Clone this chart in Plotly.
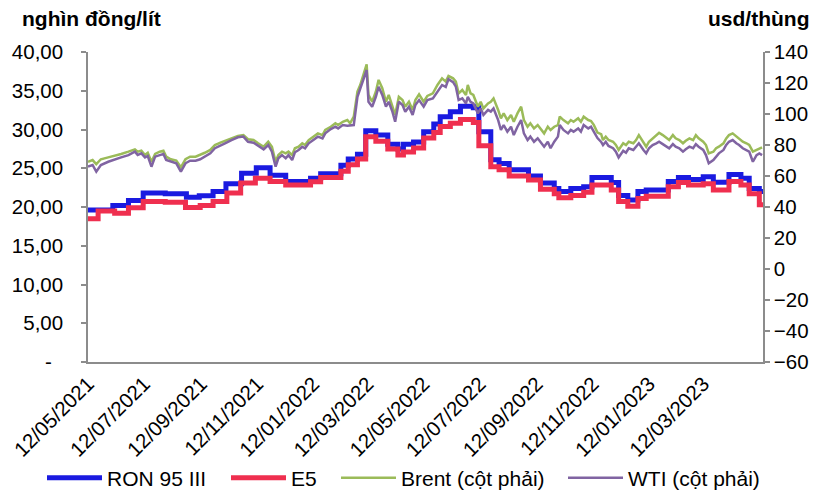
import plotly.graph_objects as go

# ---- Retail petrol prices (thousand VND / litre), step series: change dates and new levels
ron95_dates = [
    "2021-05-12", "2021-06-08", "2021-06-25", "2021-07-11", "2021-08-04", "2021-08-27",
    "2021-09-10", "2021-09-25", "2021-10-09", "2021-10-26", "2021-11-11", "2021-11-26",
    "2021-12-13", "2022-01-09", "2022-01-20", "2022-02-11", "2022-02-19", "2022-03-01",
    "2022-03-10", "2022-03-21", "2022-04-03", "2022-04-14", "2022-04-20", "2022-05-01",
    "2022-05-12", "2022-05-23", "2022-05-30", "2022-06-10", "2022-06-21", "2022-07-05",
    "2022-07-11", "2022-07-24", "2022-08-02", "2022-08-13", "2022-09-03", "2022-09-16",
    "2022-10-01", "2022-10-06", "2022-10-19", "2022-11-02", "2022-11-11", "2022-12-02",
    "2022-12-10", "2022-12-20", "2022-12-31", "2023-01-09", "2023-02-02", "2023-02-13",
    "2023-02-24", "2023-03-12", "2023-03-23", "2023-04-09", "2023-04-22", "2023-05-01",
    "2023-05-12", "2023-05-16",
]
ron95_values = [
    19.6, 20.2, 20.85, 21.8, 21.7, 21.25,
    21.45, 22.0, 23.0, 24.35, 25.05, 24.1,
    23.3, 23.7, 24.3, 25.4, 26.2, 26.8,
    29.85, 29.3, 28.1, 27.5, 28.1, 28.4,
    29.7, 30.7, 31.65, 32.3, 33.0, 32.8,
    29.7, 26.1, 25.6, 24.8, 24.0, 23.1,
    22.4, 22.0, 22.4, 22.6, 23.8, 23.15,
    21.5, 20.9, 22.0, 22.2, 23.3, 23.8,
    23.55, 23.9, 23.2, 24.2, 23.7, 22.4,
    22.0, 22.0,
]

e5_dates = [
    "2021-05-12", "2021-05-23", "2021-06-10", "2021-06-25", "2021-07-11", "2021-08-04",
    "2021-08-26", "2021-09-11", "2021-09-25", "2021-10-10", "2021-10-25", "2021-11-10",
    "2021-11-26", "2021-12-13", "2022-01-09", "2022-01-20", "2022-02-11", "2022-02-19",
    "2022-03-01", "2022-03-10", "2022-03-21", "2022-04-03", "2022-04-14", "2022-04-20",
    "2022-05-01", "2022-05-12", "2022-05-23", "2022-05-30", "2022-06-10", "2022-06-21",
    "2022-07-05", "2022-07-11", "2022-07-24", "2022-08-02", "2022-08-13", "2022-09-03",
    "2022-09-16", "2022-10-01", "2022-10-06", "2022-10-19", "2022-11-02", "2022-11-11",
    "2022-12-02", "2022-12-10", "2022-12-20", "2022-12-31", "2023-01-09", "2023-02-02",
    "2023-02-13", "2023-02-24", "2023-03-12", "2023-03-23", "2023-04-09", "2023-04-22",
    "2023-05-01", "2023-05-12", "2023-05-16",
]
e5_values = [
    18.5, 19.5, 19.2, 19.9, 20.7, 20.6,
    19.95, 20.2, 20.7, 21.8, 23.1, 23.7,
    23.3, 22.85, 23.25, 23.8, 24.6, 25.45,
    26.2, 29.05, 28.5, 27.5, 26.7, 27.1,
    27.6, 28.9, 29.6, 30.4, 30.8, 31.3,
    30.9, 27.9, 25.2, 24.8, 24.0, 23.5,
    22.3, 21.7, 21.2, 21.5, 21.9, 22.85,
    22.2, 20.7, 20.1, 21.1, 21.4, 22.6,
    23.15, 22.85, 23.0, 22.2, 23.3, 22.85,
    21.7, 20.3, 20.3,
]

# ---- Crude oil prices (USD / barrel), right axis
oil_dates = [
    "2021-05-12", "2021-05-17", "2021-05-21", "2021-05-26", "2021-06-03", "2021-06-10",
    "2021-06-17", "2021-06-25", "2021-07-02", "2021-07-05", "2021-07-09", "2021-07-13",
    "2021-07-16", "2021-07-20", "2021-07-24", "2021-07-29", "2021-08-02", "2021-08-05",
    "2021-08-10", "2021-08-16", "2021-08-21", "2021-08-26", "2021-08-31", "2021-09-06",
    "2021-09-11", "2021-09-16", "2021-09-22", "2021-09-27", "2021-10-03", "2021-10-08",
    "2021-10-15", "2021-10-22", "2021-10-28", "2021-11-02", "2021-11-08", "2021-11-13",
    "2021-11-19", "2021-11-24", "2021-11-28", "2021-12-02", "2021-12-05", "2021-12-09",
    "2021-12-13", "2021-12-16", "2021-12-20", "2021-12-23", "2021-12-27", "2021-12-31",
    "2022-01-03", "2022-01-07", "2022-01-12", "2022-01-17", "2022-01-22", "2022-01-25",
    "2022-01-31", "2022-02-05", "2022-02-08", "2022-02-13", "2022-02-18", "2022-02-21",
    "2022-02-25", "2022-03-01", "2022-03-04", "2022-03-08", "2022-03-11", "2022-03-13",
    "2022-03-17", "2022-03-21", "2022-03-24", "2022-03-28", "2022-04-01", "2022-04-04",
    "2022-04-08", "2022-04-11", "2022-04-15", "2022-04-19", "2022-04-22", "2022-04-26",
    "2022-04-30", "2022-05-03", "2022-05-07", "2022-05-12", "2022-05-16", "2022-05-22",
    "2022-05-27", "2022-06-01", "2022-06-05", "2022-06-08", "2022-06-13", "2022-06-16",
    "2022-06-19", "2022-06-23", "2022-06-27", "2022-06-29", "2022-07-02", "2022-07-05",
    "2022-07-10", "2022-07-13", "2022-07-16", "2022-07-21", "2022-07-24", "2022-07-27",
    "2022-08-01", "2022-08-04", "2022-08-07", "2022-08-11", "2022-08-15", "2022-08-18",
    "2022-08-22", "2022-08-26", "2022-08-29", "2022-09-02", "2022-09-05", "2022-09-09",
    "2022-09-13", "2022-09-16", "2022-09-20", "2022-09-24", "2022-09-27", "2022-10-01",
    "2022-10-05", "2022-10-07", "2022-10-11", "2022-10-16", "2022-10-19", "2022-10-22",
    "2022-10-27", "2022-10-30", "2022-11-02", "2022-11-07", "2022-11-10", "2022-11-13",
    "2022-11-17", "2022-11-21", "2022-11-23", "2022-11-26", "2022-11-29", "2022-12-04",
    "2022-12-07", "2022-12-10", "2022-12-15", "2022-12-18", "2022-12-21", "2022-12-26",
    "2022-12-29", "2023-01-01", "2023-01-06", "2023-01-09", "2023-01-12", "2023-01-16",
    "2023-01-20", "2023-01-23", "2023-01-27", "2023-01-31", "2023-02-03", "2023-02-07",
    "2023-02-10", "2023-02-14", "2023-02-18", "2023-02-21", "2023-02-25", "2023-03-01",
    "2023-03-04", "2023-03-07", "2023-03-12", "2023-03-15", "2023-03-18", "2023-03-23",
    "2023-03-26", "2023-03-29", "2023-04-03", "2023-04-06", "2023-04-09", "2023-04-13",
    "2023-04-17", "2023-04-20", "2023-04-24", "2023-04-28", "2023-05-01", "2023-05-05",
    "2023-05-09", "2023-05-12", "2023-05-15",
]
brent_values = [
    69.2, 70.3, 67.7, 70.8, 72.0, 72.9,
    74.2, 75.7, 77.2, 75.7, 76.3, 73.5,
    75.0, 69.2, 74.2, 75.7, 76.3, 72.5,
    70.8, 69.9, 65.6, 70.8, 72.5, 72.5,
    73.5, 75.0, 76.8, 80.0, 81.5, 82.8,
    84.3, 85.8, 86.4, 83.7, 83.2, 81.1,
    78.9, 82.1, 78.9, 69.2, 73.5, 75.7,
    74.6, 75.7, 73.5, 77.9, 78.9, 81.1,
    80.0, 83.2, 85.4, 87.5, 86.4, 89.7,
    91.8, 94.0, 92.9, 95.0, 96.1, 94.0,
    98.3, 114.4, 118.7, 126.3, 132.1, 112.3,
    107.9, 114.4, 122.0, 116.6, 107.9, 112.3,
    104.7, 99.4, 111.1, 109.0, 104.7, 107.9,
    102.6, 109.0, 112.7, 107.9, 111.7, 113.3,
    118.7, 123.0, 120.9, 124.5, 123.0, 120.9,
    113.3, 115.5, 112.3, 118.7, 113.3, 112.3,
    104.7, 107.9, 103.6, 106.8, 107.9, 110.1,
    102.6, 97.2, 100.4, 96.1, 99.4, 95.0,
    100.4, 104.7, 96.1, 91.8, 94.0, 90.7,
    92.9, 90.7, 87.5, 91.8, 89.7, 91.8,
    92.9, 98.3, 96.1, 94.0, 96.1, 95.0,
    97.2, 95.0, 98.3, 96.1, 95.5, 93.0,
    88.0, 87.0, 83.2, 85.4, 83.2, 82.1,
    80.0, 76.8, 81.1, 80.0, 82.1, 81.1,
    83.2, 86.4, 81.1, 78.9, 82.1, 84.3,
    86.4, 87.9, 86.4, 84.3, 83.2, 86.4,
    84.3, 83.2, 81.1, 82.7, 84.3, 83.2,
    86.4, 84.3, 82.1, 80.0, 74.6, 75.7,
    77.9, 78.9, 81.1, 84.3, 86.4, 87.5,
    85.4, 84.3, 82.1, 81.1, 80.0, 75.7,
    76.8, 77.9, 78.5,
]
wti_values = [
    66.0, 67.1, 62.8, 67.1, 69.2, 70.8,
    72.0, 73.5, 75.7, 73.5, 74.6, 72.0,
    72.9, 66.0, 72.5, 73.5, 74.2, 70.3,
    69.2, 68.2, 62.8, 68.2, 69.9, 69.9,
    70.8, 72.5, 74.6, 77.9, 79.4, 81.1,
    83.2, 85.0, 85.4, 82.1, 81.5, 79.4,
    77.2, 80.0, 75.7, 66.0, 71.4, 73.5,
    71.4, 73.5, 70.3, 75.3, 76.8, 78.9,
    77.9, 81.1, 83.2, 85.4, 84.3, 87.5,
    90.3, 91.8, 90.7, 92.9, 92.5, 92.5,
    92.9, 111.1, 116.6, 123.0, 128.4, 107.9,
    104.7, 111.1, 117.6, 112.3, 104.7, 107.9,
    101.5, 95.0, 107.9, 105.8, 101.5, 104.7,
    99.4, 105.8, 109.0, 104.7, 109.0, 110.1,
    114.4, 118.7, 117.5, 122.5, 120.5, 117.6,
    109.0, 110.1, 106.8, 111.1, 107.9, 106.8,
    100.4, 103.6, 99.4, 102.6, 101.5, 103.6,
    96.1, 89.7, 92.9, 88.6, 91.8, 86.4,
    91.8, 96.1, 87.5, 83.2, 85.4, 82.1,
    84.3, 82.1, 78.9, 82.1, 77.9, 82.1,
    85.4, 92.9, 89.7, 87.5, 89.7, 88.6,
    90.7, 88.6, 92.9, 90.7, 91.8, 88.6,
    84.5, 82.0, 80.0, 82.1, 79.4, 77.9,
    75.7, 72.0, 76.3, 75.0, 77.9, 76.8,
    78.9, 81.1, 76.8, 74.6, 77.9, 80.0,
    81.1, 82.1, 80.6, 78.9, 77.9, 80.6,
    78.9, 77.9, 75.7, 77.2, 78.9, 77.9,
    80.6, 78.9, 76.8, 73.5, 68.2, 70.3,
    72.5, 74.6, 76.8, 80.0, 82.1, 83.2,
    81.1, 80.0, 77.9, 76.8, 75.7, 69.2,
    73.5, 74.6, 73.5,
]

# ---- Axis ticks
x_tick_dates = [
    "2021-05-12", "2021-07-12", "2021-09-12", "2021-11-12", "2022-01-12", "2022-03-12",
    "2022-05-12", "2022-07-12", "2022-09-12", "2022-11-12", "2023-01-12", "2023-03-12",
]
left_tick_vals = [0, 5, 10, 15, 20, 25, 30, 35, 40]
left_tick_text = ["-\u00a0\u00a0", "5,00", "10,00", "15,00", "20,00", "25,00", "30,00", "35,00", "40,00"]
right_tick_vals = [-60, -40, -20, 0, 20, 40, 60, 80, 100, 120, 140]

FONT = "Liberation Sans, Arial, sans-serif"
AXIS_GREY = "#8c8c8c"
W, H = 813, 493

fig = go.Figure()
fig.add_trace(go.Scatter(
    x=ron95_dates, y=ron95_values, name="RON 95 III", mode="lines", legend="legend",
    line=dict(color="#1a1ae0", width=5, shape="hv"),
))
fig.add_trace(go.Scatter(
    x=e5_dates, y=e5_values, name="E5", mode="lines", legend="legend2",
    line=dict(color="#ef2f4f", width=5, shape="hv"),
))
fig.add_trace(go.Scatter(
    x=oil_dates, y=brent_values, name="Brent (cột phải)", mode="lines", yaxis="y2",
    legend="legend3", line=dict(color="#9bbb59", width=2.5),
))
fig.add_trace(go.Scatter(
    x=oil_dates, y=wti_values, name="WTI (cột phải)", mode="lines", yaxis="y2",
    legend="legend4", line=dict(color="#8064a2", width=2.5),
))


def legend_box(left_px):
    # one legend entry, placed along the bottom row of the figure
    return dict(
        orientation="h", xref="container", yref="container",
        x=left_px / W, xanchor="left", y=15 / H, yanchor="middle",
        font=dict(size=21), itemwidth=55, bgcolor="rgba(0,0,0,0)",
    )


fig.update_layout(
    width=W, height=H,
    margin=dict(l=88, r=50, t=52, b=131),
    paper_bgcolor="white", plot_bgcolor="white",
    font=dict(family=FONT, size=20.5, color="black"),
    showlegend=True,
    legend=legend_box(42),
    legend2=legend_box(226),
    legend3=legend_box(336),
    legend4=legend_box(563),
    xaxis=dict(
        type="date", range=["2021-05-12", "2023-05-16"],
        tickvals=x_tick_dates, tickformat="%d/%m/%Y", tickangle=-45,
        showline=True, linecolor=AXIS_GREY, linewidth=1.5,
        ticks="", showgrid=False, zeroline=False, automargin=False,
    ),
    yaxis=dict(
        range=[0, 40], tickvals=left_tick_vals, ticktext=left_tick_text,
        showline=True, linecolor=AXIS_GREY, linewidth=1.5,
        ticks="outside", ticklen=5, tickcolor=AXIS_GREY, tickwidth=1.5,
        ticklabelstandoff=14, automargin=False,
        showgrid=False, zeroline=False,
    ),
    yaxis2=dict(
        range=[-60, 140], tickvals=right_tick_vals, overlaying="y", side="right",
        showline=True, linecolor=AXIS_GREY, linewidth=1.5,
        ticks="outside", ticklen=5, tickcolor=AXIS_GREY, tickwidth=1.5,
        automargin=False,
        showgrid=False, zeroline=False,
    ),
    annotations=[
        dict(text="<b>nghìn đồng/lít</b>", xref="paper", yref="paper", x=-0.1007, y=1.0,
             yshift=34, xanchor="left", yanchor="middle", showarrow=False,
             font=dict(size=21)),
        dict(text="<b>usd/thùng</b>", xref="paper", yref="paper", x=1.0711, y=1.0,
             yshift=34, xanchor="right", yanchor="middle", showarrow=False,
             font=dict(size=21)),
    ],
)

fig.write_html("out.html")
